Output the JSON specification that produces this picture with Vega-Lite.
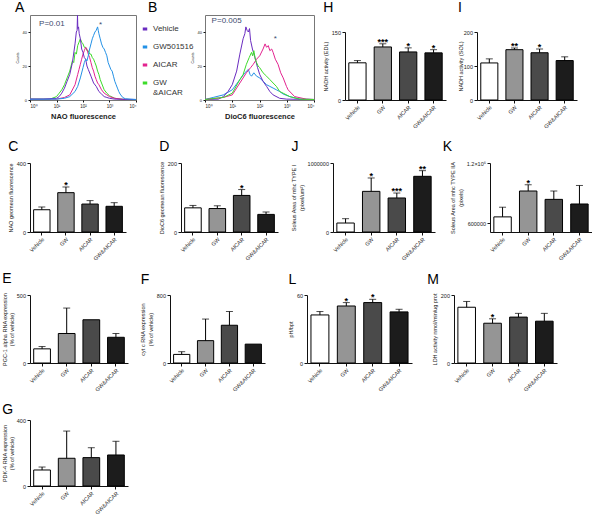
{
"$schema": "https://vega.github.io/schema/vega-lite/v6.json",
"padding": {"left": 2, "top": 0, "right": 0, "bottom": 0},
"columns": 1,
"align": "none",
"spacing": 10,
"resolve": {"scale": {"stroke": "independent"}, "legend": {"stroke": "independent"}},
"config": {
  "font": "Liberation Sans",
  "view": {"stroke": null},
  "title": {"fontSize": 14, "fontWeight": "normal", "anchor": "start", "frame": "bounds", "color": "black", "font": "Liberation Sans"},
  "axis": {"labelFontSize": 5.5, "titleFontSize": 5.5, "titleFontWeight": "normal", "labelColor": "#222", "titleColor": "#222", "domainColor": "#111", "tickColor": "#111", "tickSize": 3, "grid": false, "labelPadding": 1.5, "titlePadding": 3, "domainWidth": 1, "tickWidth": 1, "labelOverlap": false}
},
"datasets": {
  "hist": [
    {"p":"A","s":"GW&AICAR","x":1,"y":0.5},{"p":"A","s":"GW&AICAR","x":5.62,"y":0.5},{"p":"A","s":"GW&AICAR","x":10,"y":2},{"p":"A","s":"GW&AICAR","x":12.6,"y":4},{"p":"A","s":"GW&AICAR","x":15.8,"y":6},{"p":"A","s":"GW&AICAR","x":20,"y":9},{"p":"A","s":"GW&AICAR","x":25.1,"y":13},{"p":"A","s":"GW&AICAR","x":31.6,"y":17},{"p":"A","s":"GW&AICAR","x":39.8,"y":23},{"p":"A","s":"GW&AICAR","x":44.7,"y":22},{"p":"A","s":"GW&AICAR","x":50.1,"y":28},{"p":"A","s":"GW&AICAR","x":56.2,"y":27},{"p":"A","s":"GW&AICAR","x":63.1,"y":32},{"p":"A","s":"GW&AICAR","x":70.8,"y":34},{"p":"A","s":"GW&AICAR","x":79.4,"y":36},{"p":"A","s":"GW&AICAR","x":89,"y":34},{"p":"A","s":"GW&AICAR","x":100,"y":33},{"p":"A","s":"GW&AICAR","x":112,"y":31},{"p":"A","s":"GW&AICAR","x":126,"y":31},{"p":"A","s":"GW&AICAR","x":141,"y":29},{"p":"A","s":"GW&AICAR","x":158,"y":29},{"p":"A","s":"GW&AICAR","x":178,"y":27},{"p":"A","s":"GW&AICAR","x":200,"y":27},{"p":"A","s":"GW&AICAR","x":224,"y":25},{"p":"A","s":"GW&AICAR","x":251,"y":24},{"p":"A","s":"GW&AICAR","x":282,"y":22},{"p":"A","s":"GW&AICAR","x":316,"y":20},{"p":"A","s":"GW&AICAR","x":355,"y":17},{"p":"A","s":"GW&AICAR","x":398,"y":15},{"p":"A","s":"GW&AICAR","x":447,"y":12},{"p":"A","s":"GW&AICAR","x":501,"y":10},{"p":"A","s":"GW&AICAR","x":631,"y":6},{"p":"A","s":"GW&AICAR","x":794,"y":4},{"p":"A","s":"GW&AICAR","x":1000,"y":2.5},{"p":"A","s":"GW&AICAR","x":1585,"y":1},{"p":"A","s":"GW&AICAR","x":3162,"y":0.4},{"p":"A","s":"GW&AICAR","x":10000,"y":0.2},
    {"p":"A","s":"AICAR","x":1,"y":0.5},{"p":"A","s":"AICAR","x":10,"y":0.5},{"p":"A","s":"AICAR","x":20,"y":1.5},{"p":"A","s":"AICAR","x":31.6,"y":3},{"p":"A","s":"AICAR","x":50.1,"y":9},{"p":"A","s":"AICAR","x":63.1,"y":15},{"p":"A","s":"AICAR","x":70.8,"y":18},{"p":"A","s":"AICAR","x":79.4,"y":21},{"p":"A","s":"AICAR","x":89,"y":24},{"p":"A","s":"AICAR","x":100,"y":27},{"p":"A","s":"AICAR","x":112,"y":29},{"p":"A","s":"AICAR","x":126,"y":31},{"p":"A","s":"AICAR","x":141,"y":30},{"p":"A","s":"AICAR","x":158,"y":27},{"p":"A","s":"AICAR","x":178,"y":25},{"p":"A","s":"AICAR","x":200,"y":22},{"p":"A","s":"AICAR","x":224,"y":19},{"p":"A","s":"AICAR","x":251,"y":17},{"p":"A","s":"AICAR","x":282,"y":14},{"p":"A","s":"AICAR","x":316,"y":12},{"p":"A","s":"AICAR","x":355,"y":10},{"p":"A","s":"AICAR","x":398,"y":9},{"p":"A","s":"AICAR","x":501,"y":6},{"p":"A","s":"AICAR","x":631,"y":4},{"p":"A","s":"AICAR","x":794,"y":3},{"p":"A","s":"AICAR","x":1000,"y":2},{"p":"A","s":"AICAR","x":1585,"y":1},{"p":"A","s":"AICAR","x":3162,"y":0.4},{"p":"A","s":"AICAR","x":10000,"y":0.2},
    {"p":"A","s":"Vehicle","x":1,"y":0.5},{"p":"A","s":"Vehicle","x":3.16,"y":0.5},{"p":"A","s":"Vehicle","x":10,"y":1},{"p":"A","s":"Vehicle","x":12.6,"y":2},{"p":"A","s":"Vehicle","x":15.8,"y":4},{"p":"A","s":"Vehicle","x":20,"y":7},{"p":"A","s":"Vehicle","x":25.1,"y":11},{"p":"A","s":"Vehicle","x":31.6,"y":15},{"p":"A","s":"Vehicle","x":39.8,"y":22},{"p":"A","s":"Vehicle","x":50.1,"y":33},{"p":"A","s":"Vehicle","x":56,"y":40},{"p":"A","s":"Vehicle","x":60,"y":41},{"p":"A","s":"Vehicle","x":62,"y":50},{"p":"A","s":"Vehicle","x":64,"y":42},{"p":"A","s":"Vehicle","x":68,"y":43},{"p":"A","s":"Vehicle","x":72,"y":39},{"p":"A","s":"Vehicle","x":79.4,"y":36},{"p":"A","s":"Vehicle","x":89,"y":30},{"p":"A","s":"Vehicle","x":100,"y":28},{"p":"A","s":"Vehicle","x":112,"y":25},{"p":"A","s":"Vehicle","x":126,"y":24},{"p":"A","s":"Vehicle","x":141,"y":20},{"p":"A","s":"Vehicle","x":158,"y":18},{"p":"A","s":"Vehicle","x":200,"y":14},{"p":"A","s":"Vehicle","x":251,"y":10},{"p":"A","s":"Vehicle","x":316,"y":8},{"p":"A","s":"Vehicle","x":398,"y":5},{"p":"A","s":"Vehicle","x":501,"y":3.5},{"p":"A","s":"Vehicle","x":631,"y":2},{"p":"A","s":"Vehicle","x":794,"y":1.5},{"p":"A","s":"Vehicle","x":1000,"y":1},{"p":"A","s":"Vehicle","x":1585,"y":0.5},{"p":"A","s":"Vehicle","x":10000,"y":0.3},
    {"p":"A","s":"GW501516","x":1,"y":0.5},{"p":"A","s":"GW501516","x":10,"y":0.5},{"p":"A","s":"GW501516","x":20,"y":1},{"p":"A","s":"GW501516","x":31.6,"y":2},{"p":"A","s":"GW501516","x":50.1,"y":5},{"p":"A","s":"GW501516","x":63.1,"y":8},{"p":"A","s":"GW501516","x":79.4,"y":13},{"p":"A","s":"GW501516","x":100,"y":19},{"p":"A","s":"GW501516","x":112,"y":22},{"p":"A","s":"GW501516","x":126,"y":24},{"p":"A","s":"GW501516","x":141,"y":23},{"p":"A","s":"GW501516","x":158,"y":26},{"p":"A","s":"GW501516","x":178,"y":30},{"p":"A","s":"GW501516","x":200,"y":33},{"p":"A","s":"GW501516","x":224,"y":36},{"p":"A","s":"GW501516","x":251,"y":38},{"p":"A","s":"GW501516","x":282,"y":40},{"p":"A","s":"GW501516","x":316,"y":41},{"p":"A","s":"GW501516","x":355,"y":43},{"p":"A","s":"GW501516","x":376,"y":41},{"p":"A","s":"GW501516","x":398,"y":39},{"p":"A","s":"GW501516","x":447,"y":36},{"p":"A","s":"GW501516","x":501,"y":33},{"p":"A","s":"GW501516","x":562,"y":31},{"p":"A","s":"GW501516","x":631,"y":30},{"p":"A","s":"GW501516","x":708,"y":28},{"p":"A","s":"GW501516","x":794,"y":26},{"p":"A","s":"GW501516","x":891,"y":22},{"p":"A","s":"GW501516","x":1000,"y":20},{"p":"A","s":"GW501516","x":1122,"y":18},{"p":"A","s":"GW501516","x":1259,"y":17},{"p":"A","s":"GW501516","x":1413,"y":14},{"p":"A","s":"GW501516","x":1585,"y":11},{"p":"A","s":"GW501516","x":1778,"y":9},{"p":"A","s":"GW501516","x":1995,"y":7},{"p":"A","s":"GW501516","x":2239,"y":5},{"p":"A","s":"GW501516","x":2512,"y":3.5},{"p":"A","s":"GW501516","x":3162,"y":1.5},{"p":"A","s":"GW501516","x":3981,"y":0.7},{"p":"A","s":"GW501516","x":10000,"y":0.3},
    {"p":"B","s":"GW501516","x":1,"y":0.3},{"p":"B","s":"GW501516","x":2,"y":1.5},{"p":"B","s":"GW501516","x":4.7,"y":3},{"p":"B","s":"GW501516","x":10,"y":6},{"p":"B","s":"GW501516","x":19,"y":12},{"p":"B","s":"GW501516","x":29,"y":16},{"p":"B","s":"GW501516","x":39,"y":18},{"p":"B","s":"GW501516","x":45,"y":15},{"p":"B","s":"GW501516","x":51,"y":14},{"p":"B","s":"GW501516","x":62,"y":16},{"p":"B","s":"GW501516","x":78,"y":14},{"p":"B","s":"GW501516","x":102,"y":13},{"p":"B","s":"GW501516","x":135,"y":11},{"p":"B","s":"GW501516","x":182,"y":9},{"p":"B","s":"GW501516","x":240,"y":8},{"p":"B","s":"GW501516","x":316,"y":7},{"p":"B","s":"GW501516","x":417,"y":6},{"p":"B","s":"GW501516","x":550,"y":5},{"p":"B","s":"GW501516","x":741,"y":3.5},{"p":"B","s":"GW501516","x":1288,"y":2},{"p":"B","s":"GW501516","x":3020,"y":0.5},{"p":"B","s":"GW501516","x":10000,"y":0.3},
    {"p":"B","s":"Vehicle","x":1,"y":0.3},{"p":"B","s":"Vehicle","x":3.1,"y":0.5},{"p":"B","s":"Vehicle","x":4.7,"y":2},{"p":"B","s":"Vehicle","x":7,"y":5},{"p":"B","s":"Vehicle","x":10,"y":9},{"p":"B","s":"Vehicle","x":14.5,"y":17},{"p":"B","s":"Vehicle","x":19,"y":27},{"p":"B","s":"Vehicle","x":25,"y":36},{"p":"B","s":"Vehicle","x":29,"y":39},{"p":"B","s":"Vehicle","x":31.6,"y":43},{"p":"B","s":"Vehicle","x":35,"y":41},{"p":"B","s":"Vehicle","x":39,"y":40},{"p":"B","s":"Vehicle","x":43,"y":42},{"p":"B","s":"Vehicle","x":47,"y":35},{"p":"B","s":"Vehicle","x":55,"y":30},{"p":"B","s":"Vehicle","x":68,"y":25},{"p":"B","s":"Vehicle","x":85,"y":19},{"p":"B","s":"Vehicle","x":102,"y":15},{"p":"B","s":"Vehicle","x":135,"y":11},{"p":"B","s":"Vehicle","x":182,"y":8},{"p":"B","s":"Vehicle","x":240,"y":5},{"p":"B","s":"Vehicle","x":316,"y":3},{"p":"B","s":"Vehicle","x":550,"y":1},{"p":"B","s":"Vehicle","x":1000,"y":0.5},{"p":"B","s":"Vehicle","x":10000,"y":0.3},
    {"p":"B","s":"AICAR","x":1,"y":0.3},{"p":"B","s":"AICAR","x":4.7,"y":1.5},{"p":"B","s":"AICAR","x":10,"y":3},{"p":"B","s":"AICAR","x":19,"y":10},{"p":"B","s":"AICAR","x":33,"y":16},{"p":"B","s":"AICAR","x":47,"y":19},{"p":"B","s":"AICAR","x":59,"y":21},{"p":"B","s":"AICAR","x":78,"y":24},{"p":"B","s":"AICAR","x":102,"y":26},{"p":"B","s":"AICAR","x":135,"y":30},{"p":"B","s":"AICAR","x":160,"y":33},{"p":"B","s":"AICAR","x":182,"y":31},{"p":"B","s":"AICAR","x":210,"y":32},{"p":"B","s":"AICAR","x":240,"y":29},{"p":"B","s":"AICAR","x":280,"y":30},{"p":"B","s":"AICAR","x":316,"y":28},{"p":"B","s":"AICAR","x":380,"y":24},{"p":"B","s":"AICAR","x":479,"y":21},{"p":"B","s":"AICAR","x":600,"y":16},{"p":"B","s":"AICAR","x":741,"y":13},{"p":"B","s":"AICAR","x":977,"y":8},{"p":"B","s":"AICAR","x":1122,"y":6},{"p":"B","s":"AICAR","x":1950,"y":2},{"p":"B","s":"AICAR","x":5250,"y":0.5},{"p":"B","s":"AICAR","x":10000,"y":0.3},
    {"p":"B","s":"GW&AICAR","x":1,"y":0.3},{"p":"B","s":"GW&AICAR","x":4.7,"y":1.5},{"p":"B","s":"GW&AICAR","x":10,"y":4},{"p":"B","s":"GW&AICAR","x":19,"y":12},{"p":"B","s":"GW&AICAR","x":25,"y":15},{"p":"B","s":"GW&AICAR","x":33,"y":21},{"p":"B","s":"GW&AICAR","x":42,"y":25},{"p":"B","s":"GW&AICAR","x":51,"y":28},{"p":"B","s":"GW&AICAR","x":56,"y":26},{"p":"B","s":"GW&AICAR","x":62,"y":29},{"p":"B","s":"GW&AICAR","x":70,"y":24},{"p":"B","s":"GW&AICAR","x":78,"y":22},{"p":"B","s":"GW&AICAR","x":89,"y":20},{"p":"B","s":"GW&AICAR","x":102,"y":19},{"p":"B","s":"GW&AICAR","x":135,"y":16},{"p":"B","s":"GW&AICAR","x":182,"y":14},{"p":"B","s":"GW&AICAR","x":240,"y":12},{"p":"B","s":"GW&AICAR","x":316,"y":10},{"p":"B","s":"GW&AICAR","x":417,"y":8},{"p":"B","s":"GW&AICAR","x":550,"y":5},{"p":"B","s":"GW&AICAR","x":741,"y":4},{"p":"B","s":"GW&AICAR","x":1288,"y":2},{"p":"B","s":"GW&AICAR","x":3020,"y":0.5},{"p":"B","s":"GW&AICAR","x":10000,"y":0.3}
  ],
  "notes": [
    {"p":"A","x":2.2,"y":45,"t":"P=0.01"},
    {"p":"A","x":398,"y":44,"t":"*"},
    {"p":"B","x":1.75,"y":46.5,"t":"P=0.005"},
    {"p":"B","x":330,"y":36,"t":"*"}
  ],
  "H": [{"g":"Vehicle","v":82,"e":87,"s":""},{"g":"GW","v":117,"e":124,"s":"***"},{"g":"AICAR","v":106,"e":115,"s":"*"},{"g":"GW&AICAR","v":104,"e":111,"s":"*"}],
  "I": [{"g":"Vehicle","v":109,"e":121,"s":""},{"g":"GW","v":148,"e":153,"s":"**"},{"g":"AICAR","v":139,"e":150,"s":"*"},{"g":"GW&AICAR","v":116,"e":127,"s":""}],
  "C": [{"g":"Vehicle","v":129,"e":145,"s":""},{"g":"GW","v":228,"e":261,"s":"*"},{"g":"AICAR","v":162,"e":182,"s":""},{"g":"GW&AICAR","v":149,"e":170,"s":""}],
  "D": [{"g":"Vehicle","v":70,"e":77,"s":""},{"g":"GW","v":68,"e":76,"s":""},{"g":"AICAR","v":106,"e":123,"s":"*"},{"g":"GW&AICAR","v":51,"e":58,"s":""}],
  "J": [{"g":"Vehicle","v":130000,"e":193000,"s":""},{"g":"GW","v":589000,"e":783000,"s":"*"},{"g":"AICAR","v":493000,"e":565000,"s":"***"},{"g":"GW&AICAR","v":807000,"e":889000,"s":"**"}],
  "K": [{"g":"Vehicle","v":665000,"e":761000,"s":""},{"g":"GW","v":922000,"e":984000,"s":"*"},{"g":"AICAR","v":839000,"e":922000,"s":""},{"g":"GW&AICAR","v":793000,"e":977000,"s":""}],
  "E": [{"g":"Vehicle","v":104,"e":121,"s":""},{"g":"GW","v":217,"e":404,"s":""},{"g":"AICAR","v":318,"e":null,"s":""},{"g":"GW&AICAR","v":189,"e":217,"s":""}],
  "F": [{"g":"Vehicle","v":101,"e":133,"s":""},{"g":"GW","v":263,"e":517,"s":""},{"g":"AICAR","v":444,"e":606,"s":""},{"g":"GW&AICAR","v":222,"e":null,"s":""}],
  "L": [{"g":"Vehicle","v":42.4,"e":45.4,"s":""},{"g":"GW","v":50.3,"e":53.3,"s":"*"},{"g":"AICAR","v":53.3,"e":56.2,"s":"*"},{"g":"GW&AICAR","v":45.1,"e":47.4,"s":""}],
  "M": [{"g":"Vehicle","v":164,"e":181,"s":""},{"g":"GW","v":117,"e":130,"s":"*"},{"g":"AICAR","v":135,"e":146,"s":""},{"g":"GW&AICAR","v":123,"e":146,"s":""}],
  "G": [{"g":"Vehicle","v":97,"e":115,"s":""},{"g":"GW","v":168,"e":333,"s":""},{"g":"AICAR","v":172,"e":232,"s":""},{"g":"GW&AICAR","v":188,"e":271,"s":""}]
},
"concat": [
  {"hconcat": [
    {"width": 106, "height": 85, "title": {"text": "A", "offset": 0}, "view": {"stroke": "#777"},
     "layer": [
      {"data": {"name": "hist"}, "transform": [{"filter": "datum.p == 'A'"}], "mark": {"type": "line", "strokeWidth": 1, "clip": true},
       "encoding": {
        "x": {"field": "x", "type": "quantitative", "scale": {"type": "log", "domain": [1, 10000]}, "axis": {"values": [1, 10, 100, 1000, 10000], "labelExpr": "datum.value == 1 ? '10⁰' : datum.value == 10 ? '10¹' : datum.value == 100 ? '10²' : datum.value == 1000 ? '10³' : '10⁴'", "labelFontSize": 4.5, "tickSize": 2, "title": "NAO fluorescence", "titleFontSize": 7.5, "titleFontWeight": "bold", "titlePadding": 4, "domain": false, "labelOverlap": false}},
        "y": {"field": "y", "type": "quantitative", "scale": {"domain": [0, 50], "nice": false}, "axis": {"values": [0, 10, 20, 30, 40, 50], "labelFontSize": 4, "tickSize": 2, "title": "Counts", "titleFontSize": 3.5, "titlePadding": 3, "domain": false, "labelOverlap": false}},
        "stroke": {"field": "s", "type": "nominal", "scale": {"domain": ["Vehicle", "GW501516", "AICAR", "GW&AICAR"], "range": ["#6a2cc0", "#2391e6", "#e3238f", "#3ddc2a"]}, "legend": null}
       }},
      {"data": {"name": "notes"}, "transform": [{"filter": "datum.p == 'A'"}], "mark": {"type": "text", "align": "left", "baseline": "middle", "fontSize": 8, "color": "#3c4a6e"},
       "encoding": {"x": {"field": "x", "type": "quantitative"}, "y": {"field": "y", "type": "quantitative"}, "text": {"field": "t"}}}
     ]},
    {"width": 7, "height": 85, "data": {"name": "hist"}, "transform": [{"filter": "datum.p == 'none'"}],
     "mark": {"type": "line", "strokeWidth": 1},
     "encoding": {
      "x": {"field": "x", "type": "quantitative", "axis": null},
      "y": {"field": "y", "type": "quantitative", "axis": null},
      "stroke": {"field": "s", "type": "nominal", "scale": {"domain": ["Vehicle", "GW501516", "AICAR", "GW&AICAR"], "range": ["#6a2cc0", "#2391e6", "#e3238f", "#3ddc2a"]},
        "legend": {"orient": "none", "legendX": -26, "legendY": 10, "title": null, "symbolType": "stroke", "symbolStrokeWidth": 3, "symbolSize": 20, "labelFontSize": 8, "labelColor": "#333", "rowPadding": 6, "padding": 0, "labelLimit": 0, "labelExpr": "datum.label == 'GW&AICAR' ? ['GW', '&AICAR'] : datum.label"}}
     }},
    {"width": 109, "height": 85, "title": {"text": "B", "offset": 0, "dx": -42}, "view": {"stroke": "#777"},
     "layer": [
      {"data": {"name": "hist"}, "transform": [{"filter": "datum.p == 'B'"}], "mark": {"type": "line", "strokeWidth": 1, "clip": true},
       "encoding": {
        "x": {"field": "x", "type": "quantitative", "scale": {"type": "log", "domain": [1, 10000]}, "axis": {"values": [1, 10, 100, 1000, 10000], "labelExpr": "datum.value == 1 ? '10⁰' : datum.value == 10 ? '10¹' : datum.value == 100 ? '10²' : datum.value == 1000 ? '10³' : '10⁴'", "labelFontSize": 4.5, "tickSize": 2, "title": "DioC6 fluorescence", "titleFontSize": 7.5, "titleFontWeight": "bold", "titlePadding": 4, "domain": false, "labelOverlap": false}},
        "y": {"field": "y", "type": "quantitative", "scale": {"domain": [0, 50], "nice": false}, "axis": {"values": [0, 10, 20, 30, 40, 50], "labelFontSize": 4, "tickSize": 2, "title": "Counts", "titleFontSize": 3.5, "titlePadding": 3, "domain": false, "labelOverlap": false}},
        "stroke": {"field": "s", "type": "nominal", "scale": {"domain": ["Vehicle", "GW501516", "AICAR", "GW&AICAR"], "range": ["#6a2cc0", "#2391e6", "#e3238f", "#3ddc2a"]}, "legend": null}
       }},
      {"data": {"name": "notes"}, "transform": [{"filter": "datum.p == 'B'"}], "mark": {"type": "text", "align": "left", "baseline": "middle", "fontSize": 8, "color": "#3c4a6e"},
       "encoding": {"x": {"field": "x", "type": "quantitative"}, "y": {"field": "y", "type": "quantitative"}, "text": {"field": "t"}}}
     ]},
    {"width": 101, "height": 85, "title": {"text": "H", "offset": 0}, "data": {"name": "H"},
     "encoding": {"x": {"field": "g", "type": "nominal", "sort": ["Vehicle", "GW", "AICAR", "GW&AICAR"], "scale": {"paddingInner": 0.32, "paddingOuter": 0.15}, "axis": {"title": null, "labelAngle": -45}}},
     "layer": [
      {"mark": {"type": "bar", "stroke": "black", "strokeWidth": 1}, "encoding": {"y": {"field": "v", "type": "quantitative", "scale": {"domain": [0, 150], "nice": false, "range": [85, 17]}, "axis": {"values": [0, 50, 100, 150], "labelOverlap": false, "title": "NADH activity (EDL)"}}, "fill": {"field": "g", "type": "nominal", "scale": {"domain": ["Vehicle", "GW", "AICAR", "GW&AICAR"], "range": ["#ffffff", "#959595", "#4a4a4a", "#1c1c1c"]}, "legend": null}}},
      {"transform": [{"filter": "isValid(datum.e)"}], "mark": {"type": "rule", "color": "black", "strokeWidth": 1}, "encoding": {"y": {"field": "v", "type": "quantitative"}, "y2": {"field": "e"}}},
      {"transform": [{"filter": "isValid(datum.e)"}], "mark": {"type": "tick", "color": "black", "thickness": 1, "size": 7}, "encoding": {"y": {"field": "e", "type": "quantitative"}}},
      {"transform": [{"filter": "isValid(datum.e)"}], "mark": {"type": "text", "fontSize": 9, "fontWeight": "bold", "baseline": "alphabetic", "dy": 1}, "encoding": {"y": {"field": "e", "type": "quantitative"}, "text": {"field": "s"}}}
     ]},
    {"width": 100, "height": 85, "title": {"text": "I", "offset": 0}, "data": {"name": "I"},
     "encoding": {"x": {"field": "g", "type": "nominal", "sort": ["Vehicle", "GW", "AICAR", "GW&AICAR"], "scale": {"paddingInner": 0.32, "paddingOuter": 0.15}, "axis": {"title": null, "labelAngle": -45}}},
     "layer": [
      {"mark": {"type": "bar", "stroke": "black", "strokeWidth": 1}, "encoding": {"y": {"field": "v", "type": "quantitative", "scale": {"domain": [0, 200], "nice": false, "range": [85, 17]}, "axis": {"values": [0, 50, 100, 150, 200], "labelOverlap": false, "titleX": -14, "title": "NADH activity (SOL)"}}, "fill": {"field": "g", "type": "nominal", "scale": {"domain": ["Vehicle", "GW", "AICAR", "GW&AICAR"], "range": ["#ffffff", "#959595", "#4a4a4a", "#1c1c1c"]}, "legend": null}}},
      {"transform": [{"filter": "isValid(datum.e)"}], "mark": {"type": "rule", "color": "black", "strokeWidth": 1}, "encoding": {"y": {"field": "v", "type": "quantitative"}, "y2": {"field": "e"}}},
      {"transform": [{"filter": "isValid(datum.e)"}], "mark": {"type": "tick", "color": "black", "thickness": 1, "size": 7}, "encoding": {"y": {"field": "e", "type": "quantitative"}}},
      {"transform": [{"filter": "isValid(datum.e)"}], "mark": {"type": "text", "fontSize": 9, "fontWeight": "bold", "baseline": "alphabetic", "dy": 1}, "encoding": {"y": {"field": "e", "type": "quantitative"}, "text": {"field": "s"}}}
     ]}
  ], "spacing": 31, "bounds": "flush", "resolve": {"scale": {"stroke": "independent"}, "legend": {"stroke": "independent"}}},
  {"hconcat": [
    {"width": 96, "height": 69, "title": {"text": "C", "offset": 7}, "data": {"name": "C"},
     "encoding": {"x": {"field": "g", "type": "nominal", "sort": ["Vehicle", "GW", "AICAR", "GW&AICAR"], "scale": {"paddingInner": 0.32, "paddingOuter": 0.15}, "axis": {"title": null, "labelAngle": -45}}},
     "layer": [
      {"mark": {"type": "bar", "stroke": "black", "strokeWidth": 1}, "encoding": {"y": {"field": "v", "type": "quantitative", "scale": {"domain": [0, 400], "nice": false}, "axis": {"values": [0, 100, 200, 300, 400], "labelOverlap": false, "title": "NAO geomean fluorescence"}}, "fill": {"field": "g", "type": "nominal", "scale": {"domain": ["Vehicle", "GW", "AICAR", "GW&AICAR"], "range": ["#ffffff", "#959595", "#4a4a4a", "#1c1c1c"]}, "legend": null}}},
      {"transform": [{"filter": "isValid(datum.e)"}], "mark": {"type": "rule", "color": "black", "strokeWidth": 1}, "encoding": {"y": {"field": "v", "type": "quantitative"}, "y2": {"field": "e"}}},
      {"transform": [{"filter": "isValid(datum.e)"}], "mark": {"type": "tick", "color": "black", "thickness": 1, "size": 7}, "encoding": {"y": {"field": "e", "type": "quantitative"}}},
      {"transform": [{"filter": "isValid(datum.e)"}], "mark": {"type": "text", "fontSize": 9, "fontWeight": "bold", "baseline": "alphabetic", "dy": 1}, "encoding": {"y": {"field": "e", "type": "quantitative"}, "text": {"field": "s"}}}
     ]},
    {"width": 97, "height": 69, "title": {"text": "D", "offset": 7}, "data": {"name": "D"},
     "encoding": {"x": {"field": "g", "type": "nominal", "sort": ["Vehicle", "GW", "AICAR", "GW&AICAR"], "scale": {"paddingInner": 0.32, "paddingOuter": 0.15}, "axis": {"title": null, "labelAngle": -45}}},
     "layer": [
      {"mark": {"type": "bar", "stroke": "black", "strokeWidth": 1}, "encoding": {"y": {"field": "v", "type": "quantitative", "scale": {"domain": [0, 200], "nice": false}, "axis": {"values": [0, 50, 100, 150, 200], "labelOverlap": false, "title": "DioC6 geomean fluorescence"}}, "fill": {"field": "g", "type": "nominal", "scale": {"domain": ["Vehicle", "GW", "AICAR", "GW&AICAR"], "range": ["#ffffff", "#959595", "#4a4a4a", "#1c1c1c"]}, "legend": null}}},
      {"transform": [{"filter": "isValid(datum.e)"}], "mark": {"type": "rule", "color": "black", "strokeWidth": 1}, "encoding": {"y": {"field": "v", "type": "quantitative"}, "y2": {"field": "e"}}},
      {"transform": [{"filter": "isValid(datum.e)"}], "mark": {"type": "tick", "color": "black", "thickness": 1, "size": 7}, "encoding": {"y": {"field": "e", "type": "quantitative"}}},
      {"transform": [{"filter": "isValid(datum.e)"}], "mark": {"type": "text", "fontSize": 9, "fontWeight": "bold", "baseline": "alphabetic", "dy": 1}, "encoding": {"y": {"field": "e", "type": "quantitative"}, "text": {"field": "s"}}}
     ]},
    {"width": 102, "height": 69, "title": {"text": "J", "offset": 7}, "data": {"name": "J"},
     "encoding": {"x": {"field": "g", "type": "nominal", "sort": ["Vehicle", "GW", "AICAR", "GW&AICAR"], "scale": {"paddingInner": 0.32, "paddingOuter": 0.15}, "axis": {"title": null, "labelAngle": -45}}},
     "layer": [
      {"mark": {"type": "bar", "stroke": "black", "strokeWidth": 1}, "encoding": {"y": {"field": "v", "type": "quantitative", "scale": {"domain": [0, 1000000], "nice": false}, "axis": {"values": [0, 200000, 400000, 600000, 800000, 1000000], "labelOverlap": false, "format": "d", "title": ["Soleus Area of mhc TYPE I", "(pixel/um²)"]}}, "fill": {"field": "g", "type": "nominal", "scale": {"domain": ["Vehicle", "GW", "AICAR", "GW&AICAR"], "range": ["#ffffff", "#959595", "#4a4a4a", "#1c1c1c"]}, "legend": null}}},
      {"transform": [{"filter": "isValid(datum.e)"}], "mark": {"type": "rule", "color": "black", "strokeWidth": 1}, "encoding": {"y": {"field": "v", "type": "quantitative"}, "y2": {"field": "e"}}},
      {"transform": [{"filter": "isValid(datum.e)"}], "mark": {"type": "tick", "color": "black", "thickness": 1, "size": 7}, "encoding": {"y": {"field": "e", "type": "quantitative"}}},
      {"transform": [{"filter": "isValid(datum.e)"}], "mark": {"type": "text", "fontSize": 9, "fontWeight": "bold", "baseline": "alphabetic", "dy": 1}, "encoding": {"y": {"field": "e", "type": "quantitative"}, "text": {"field": "s"}}}
     ]},
    {"width": 102, "height": 69, "title": {"text": "K", "offset": 7, "dx": -8}, "data": {"name": "K"},
     "encoding": {"x": {"field": "g", "type": "nominal", "sort": ["Vehicle", "GW", "AICAR", "GW&AICAR"], "scale": {"paddingInner": 0.32, "paddingOuter": 0.15}, "axis": {"title": null, "labelAngle": -45}}},
     "layer": [
      {"mark": {"type": "bar", "stroke": "black", "strokeWidth": 1, "clip": true}, "encoding": {"y": {"field": "v", "type": "quantitative", "scale": {"domain": [515000, 1200000], "nice": false, "zero": false}, "axis": {"values": [600000, 800000, 1000000, 1200000], "labelOverlap": false, "format": "d", "labelExpr": "datum.value >= 1200000 ? '1.2×10⁶' : datum.label", "title": ["Soleus Area of mhc TYPE IIA", "(pixels)"]}}, "fill": {"field": "g", "type": "nominal", "scale": {"domain": ["Vehicle", "GW", "AICAR", "GW&AICAR"], "range": ["#ffffff", "#959595", "#4a4a4a", "#1c1c1c"]}, "legend": null}}},
      {"transform": [{"filter": "isValid(datum.e)"}], "mark": {"type": "rule", "color": "black", "strokeWidth": 1}, "encoding": {"y": {"field": "v", "type": "quantitative"}, "y2": {"field": "e"}}},
      {"transform": [{"filter": "isValid(datum.e)"}], "mark": {"type": "tick", "color": "black", "thickness": 1, "size": 7}, "encoding": {"y": {"field": "e", "type": "quantitative"}}},
      {"transform": [{"filter": "isValid(datum.e)"}], "mark": {"type": "text", "fontSize": 9, "fontWeight": "bold", "baseline": "alphabetic", "dy": 1}, "encoding": {"y": {"field": "e", "type": "quantitative"}, "text": {"field": "s"}}}
     ]}
  ], "spacing": 55, "bounds": "flush"},
  {"hconcat": [
    {"width": 98, "height": 68, "title": {"text": "E", "offset": 6}, "data": {"name": "E"},
     "encoding": {"x": {"field": "g", "type": "nominal", "sort": ["Vehicle", "GW", "AICAR", "GW&AICAR"], "scale": {"paddingInner": 0.32, "paddingOuter": 0.15}, "axis": {"title": null, "labelAngle": -45}}},
     "layer": [
      {"mark": {"type": "bar", "stroke": "black", "strokeWidth": 1}, "encoding": {"y": {"field": "v", "type": "quantitative", "scale": {"domain": [0, 500], "nice": false}, "axis": {"values": [0, 100, 200, 300, 400, 500], "labelOverlap": false, "titlePadding": 1.5, "title": ["PGC-1 alpha RNA expression", "(% of vehicle)"]}}, "fill": {"field": "g", "type": "nominal", "scale": {"domain": ["Vehicle", "GW", "AICAR", "GW&AICAR"], "range": ["#ffffff", "#959595", "#4a4a4a", "#1c1c1c"]}, "legend": null}}},
      {"transform": [{"filter": "isValid(datum.e)"}], "mark": {"type": "rule", "color": "black", "strokeWidth": 1}, "encoding": {"y": {"field": "v", "type": "quantitative"}, "y2": {"field": "e"}}},
      {"transform": [{"filter": "isValid(datum.e)"}], "mark": {"type": "tick", "color": "black", "thickness": 1, "size": 7}, "encoding": {"y": {"field": "e", "type": "quantitative"}}}
     ]},
    {"width": 95, "height": 68, "title": {"text": "F", "offset": 6}, "data": {"name": "F"},
     "encoding": {"x": {"field": "g", "type": "nominal", "sort": ["Vehicle", "GW", "AICAR", "GW&AICAR"], "scale": {"paddingInner": 0.32, "paddingOuter": 0.15}, "axis": {"title": null, "labelAngle": -45}}},
     "layer": [
      {"mark": {"type": "bar", "stroke": "black", "strokeWidth": 1}, "encoding": {"y": {"field": "v", "type": "quantitative", "scale": {"domain": [0, 800], "nice": false}, "axis": {"values": [0, 200, 400, 600, 800], "labelOverlap": false, "title": ["cyt c RNA expression", "(% of vehicle)"]}}, "fill": {"field": "g", "type": "nominal", "scale": {"domain": ["Vehicle", "GW", "AICAR", "GW&AICAR"], "range": ["#ffffff", "#959595", "#4a4a4a", "#1c1c1c"]}, "legend": null}}},
      {"transform": [{"filter": "isValid(datum.e)"}], "mark": {"type": "rule", "color": "black", "strokeWidth": 1}, "encoding": {"y": {"field": "v", "type": "quantitative"}, "y2": {"field": "e"}}},
      {"transform": [{"filter": "isValid(datum.e)"}], "mark": {"type": "tick", "color": "black", "thickness": 1, "size": 7}, "encoding": {"y": {"field": "e", "type": "quantitative"}}}
     ]},
    {"width": 105, "height": 68, "title": {"text": "L", "offset": 6}, "data": {"name": "L"},
     "encoding": {"x": {"field": "g", "type": "nominal", "sort": ["Vehicle", "GW", "AICAR", "GW&AICAR"], "scale": {"paddingInner": 0.32, "paddingOuter": 0.15}, "axis": {"title": null, "labelAngle": -45}}},
     "layer": [
      {"mark": {"type": "bar", "stroke": "black", "strokeWidth": 1}, "encoding": {"y": {"field": "v", "type": "quantitative", "scale": {"domain": [0, 60], "nice": false}, "axis": {"values": [0, 20, 40, 60], "labelOverlap": false, "title": "pH/bpt"}}, "fill": {"field": "g", "type": "nominal", "scale": {"domain": ["Vehicle", "GW", "AICAR", "GW&AICAR"], "range": ["#ffffff", "#999999", "#4a4a4a", "#1c1c1c"]}, "legend": null}}},
      {"transform": [{"filter": "isValid(datum.e)"}], "mark": {"type": "rule", "color": "black", "strokeWidth": 1}, "encoding": {"y": {"field": "v", "type": "quantitative"}, "y2": {"field": "e"}}},
      {"transform": [{"filter": "isValid(datum.e)"}], "mark": {"type": "tick", "color": "black", "thickness": 1, "size": 7}, "encoding": {"y": {"field": "e", "type": "quantitative"}}},
      {"transform": [{"filter": "isValid(datum.e)"}], "mark": {"type": "text", "fontSize": 9, "fontWeight": "bold", "baseline": "alphabetic", "dy": 1}, "encoding": {"y": {"field": "e", "type": "quantitative"}, "text": {"field": "s"}}}
     ]},
    {"width": 103, "height": 68, "title": {"text": "M", "offset": 6, "dx": -5}, "data": {"name": "M"},
     "encoding": {"x": {"field": "g", "type": "nominal", "sort": ["Vehicle", "GW", "AICAR", "GW&AICAR"], "scale": {"paddingInner": 0.32, "paddingOuter": 0.15}, "axis": {"title": null, "labelAngle": -45}}},
     "layer": [
      {"mark": {"type": "bar", "stroke": "black", "strokeWidth": 1}, "encoding": {"y": {"field": "v", "type": "quantitative", "scale": {"domain": [0, 200], "nice": false}, "axis": {"values": [0, 50, 100, 150, 200], "labelOverlap": false, "title": "LDH activity nmol/min/ug prot"}}, "fill": {"field": "g", "type": "nominal", "scale": {"domain": ["Vehicle", "GW", "AICAR", "GW&AICAR"], "range": ["#ffffff", "#959595", "#4a4a4a", "#1c1c1c"]}, "legend": null}}},
      {"transform": [{"filter": "isValid(datum.e)"}], "mark": {"type": "rule", "color": "black", "strokeWidth": 1}, "encoding": {"y": {"field": "v", "type": "quantitative"}, "y2": {"field": "e"}}},
      {"transform": [{"filter": "isValid(datum.e)"}], "mark": {"type": "tick", "color": "black", "thickness": 1, "size": 7}, "encoding": {"y": {"field": "e", "type": "quantitative"}}},
      {"transform": [{"filter": "isValid(datum.e)"}], "mark": {"type": "text", "fontSize": 9, "fontWeight": "bold", "baseline": "alphabetic", "dy": 1}, "encoding": {"y": {"field": "e", "type": "quantitative"}, "text": {"field": "s"}}}
     ]}
  ], "spacing": 42, "bounds": "flush"},
  {"width": 98, "height": 66, "title": {"text": "G", "offset": 1}, "data": {"name": "G"},
   "encoding": {"x": {"field": "g", "type": "nominal", "sort": ["Vehicle", "GW", "AICAR", "GW&AICAR"], "scale": {"paddingInner": 0.32, "paddingOuter": 0.15}, "axis": {"title": null, "labelAngle": -45}}},
   "layer": [
    {"mark": {"type": "bar", "stroke": "black", "strokeWidth": 1}, "encoding": {"y": {"field": "v", "type": "quantitative", "scale": {"domain": [0, 400], "nice": false}, "axis": {"values": [0, 100, 200, 300, 400], "labelOverlap": false, "titlePadding": 1.5, "title": ["PDK-4 RNA expression", "(% of vehicle)"]}}, "fill": {"field": "g", "type": "nominal", "scale": {"domain": ["Vehicle", "GW", "AICAR", "GW&AICAR"], "range": ["#ffffff", "#959595", "#4a4a4a", "#1c1c1c"]}, "legend": null}}},
    {"transform": [{"filter": "isValid(datum.e)"}], "mark": {"type": "rule", "color": "black", "strokeWidth": 1}, "encoding": {"y": {"field": "v", "type": "quantitative"}, "y2": {"field": "e"}}},
    {"transform": [{"filter": "isValid(datum.e)"}], "mark": {"type": "tick", "color": "black", "thickness": 1, "size": 7}, "encoding": {"y": {"field": "e", "type": "quantitative"}}}
   ]}
]
}
